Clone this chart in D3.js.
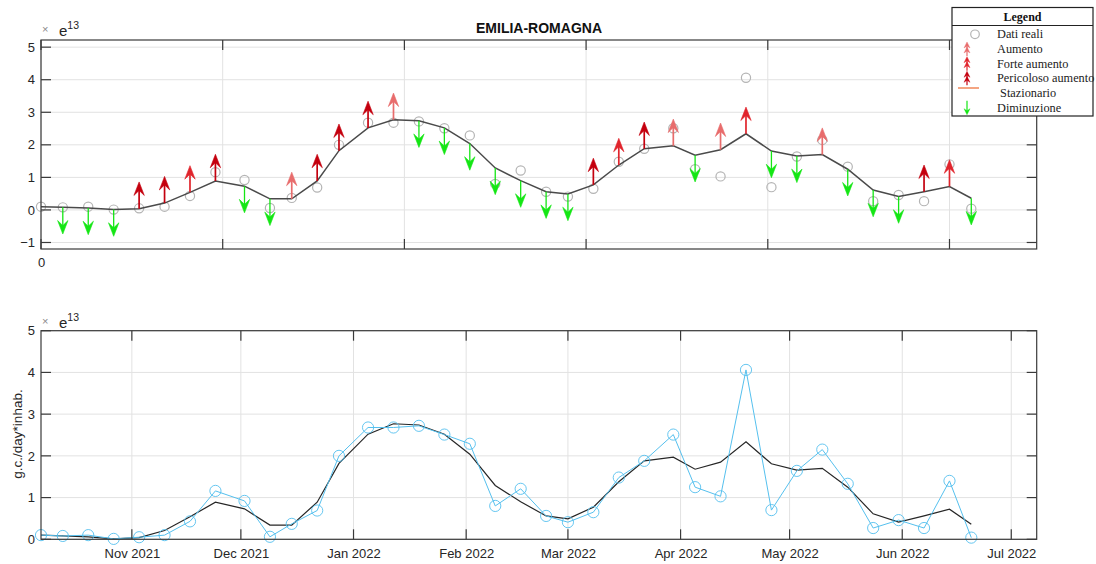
<!DOCTYPE html>
<html><head><meta charset="utf-8">
<script src="https://cdn.jsdelivr.net/npm/d3@7"></script>
<style>
body{margin:0;background:#fff}
svg{display:block}
text{font-family:"Liberation Sans",Arial,Helvetica,sans-serif}
</style>
</head><body>
<svg id="chart" width="1096" height="564"></svg>
<script>
// ---------------- DATA ----------------
const dates = ["2021-10-07","2021-10-13","2021-10-20","2021-10-27","2021-11-03","2021-11-10","2021-11-17","2021-11-24",
  "2021-12-02","2021-12-09","2021-12-15","2021-12-22","2021-12-28","2022-01-05","2022-01-12","2022-01-19","2022-01-26",
  "2022-02-02","2022-02-09","2022-02-16","2022-02-23","2022-03-01","2022-03-08","2022-03-15","2022-03-22","2022-03-30",
  "2022-04-05","2022-04-12","2022-04-19","2022-04-26","2022-05-03","2022-05-10","2022-05-17","2022-05-24","2022-05-31",
  "2022-06-07","2022-06-14","2022-06-20"];
const realValues = [0.10,0.08,0.10,0.01,0.05,0.10,0.43,1.16,0.92,0.06,
  0.37,0.69,2.00,2.68,2.68,2.72,2.51,2.29,0.80,1.21,
  0.56,0.41,0.65,1.48,1.88,2.51,1.25,1.03,4.06,0.70,
  1.64,2.15,1.33,0.27,0.46,0.27,1.40,0.04];
const smoothValues = [0.10,0.08,0.06,0.01,0.04,0.21,0.54,0.89,0.73,0.34,
  0.34,0.89,1.82,2.52,2.77,2.74,2.52,2.04,1.29,0.90,
  0.56,0.49,0.77,1.38,1.88,1.97,1.68,1.85,2.34,1.81,
  1.66,1.70,1.25,0.61,0.41,0.56,0.72,0.36];
// A = Aumento, F = Forte aumento, P = Pericoloso aumento, D = Diminuzione, "" = none
const trend = ["","D","D","D","P","P","F","P","D","D",
  "A","P","P","P","A","D","D","D","D","D",
  "D","D","P","F","P","A","D","A","F","D",
  "D","A","D","D","D","P","F","D"];
const xDomain = ["2021-10-07","2022-07-08"];
const topXTickDays = [0,50,100,150,200,250];
const topYTicks = [-1,0,1,2,3,4,5];
const topYDomain = [-1.2,5.22];
const bottomYTicks = [0,1,2,3,4,5];
const bottomYDomain = [0,5];
const monthTicks = ["2021-11-01","2021-12-01","2022-01-01","2022-02-01","2022-03-01","2022-04-01","2022-05-01","2022-06-01","2022-07-01"];
const legendLabels = ["Dati reali","Aumento","Forte aumento","Pericoloso aumento"," Stazionario","Diminuzione"];
const title = "EMILIA-ROMAGNA";
const yLabel = "g.c./day*inhab.";
const arrowLen = 0.82;

// ---------------- STYLE ----------------
const colors = {A:"#e86c6c", F:"#e0242c", P:"#c4000e", D:"#14e614"};
const gridColor = "#e2e2e2", axisColor = "#3a3a3a", textColor = "#262626";
const blue = "#55c0ee", grayCircle = "#b4b4b4";

const parse = d3.utcParse("%Y-%m-%d");
const D = dates.map(parse);
const svg = d3.select("#chart");

const L = 41, R = 1036.7;
const x = d3.scaleUtc().domain(xDomain.map(parse)).range([L, R]);
const topBox = {t:40, b:249};
const botBox = {t:330.7, b:539.3};
const yT = d3.scaleLinear().domain(topYDomain).range([topBox.b, topBox.t]);
const yB = d3.scaleLinear().domain(bottomYDomain).range([botBox.b, botBox.t]);

const start = parse(xDomain[0]);
const topXTicks = topXTickDays.map(d => d3.utcDay.offset(start, d));
const monthDates = monthTicks.map(parse);

function frame(g, ys, yScale, box, xTickVals){
  g.append("g").selectAll("line").data(ys).join("line")
    .attr("x1", L).attr("x2", R).attr("y1", d=>yScale(d)).attr("y2", d=>yScale(d))
    .attr("stroke", gridColor).attr("stroke-width", 1);
  g.append("g").selectAll("line").data(xTickVals).join("line")
    .attr("x1", d=>x(d)).attr("x2", d=>x(d)).attr("y1", box.t).attr("y2", box.b)
    .attr("stroke", gridColor).attr("stroke-width", 1);
}
function axesBox(g, ys, yScale, box, xTickVals){
  const tl = 10;
  const a = g.append("g").attr("stroke", axisColor).attr("stroke-width", 1.2).attr("fill","none");
  a.append("rect").attr("x", L).attr("y", box.t).attr("width", R-L).attr("height", box.b-box.t);
  a.selectAll(".yl").data(ys).join("line").attr("x1", L).attr("x2", L+tl).attr("y1", d=>yScale(d)).attr("y2", d=>yScale(d));
  a.selectAll(".yr").data(ys).join("line").attr("x1", R).attr("x2", R-tl).attr("y1", d=>yScale(d)).attr("y2", d=>yScale(d));
  a.selectAll(".xb").data(xTickVals).join("line").attr("x1", d=>x(d)).attr("x2", d=>x(d)).attr("y1", box.b).attr("y2", box.b-tl);
  a.selectAll(".xt").data(xTickVals).join("line").attr("x1", d=>x(d)).attr("x2", d=>x(d)).attr("y1", box.t).attr("y2", box.t+tl);
  const ax = g.append("g").attr("transform", `translate(${L},0)`)
    .call(d3.axisLeft(yScale).tickValues(ys).tickSize(0).tickPadding(6).tickFormat(d3.format("d")));
  ax.select(".domain").remove();
  ax.selectAll("text").attr("font-size", 13).attr("fill", textColor).style("font-family","Liberation Sans, Arial, sans-serif");
}
function exponent(g, yBase){
  g.append("text").attr("x", 42).attr("y", yBase-3).attr("font-size", 11).attr("fill", "#8a8a8a").text("×");
  const t = g.append("text").attr("x", 59).attr("y", yBase).attr("font-size", 15).attr("fill", textColor);
  t.append("tspan").text("e");
  t.append("tspan").attr("font-size", 10.5).attr("dy", -7).text("13");
}

// ---------- TOP PLOT ----------
const gTop = svg.append("g");
frame(gTop, topYTicks, yT, topBox, topXTicks);

gTop.append("g").selectAll("circle").data(realValues).join("circle")
  .attr("cx", (d,i)=>x(D[i])).attr("cy", d=>yT(d)).attr("r", 4.6)
  .attr("fill","none").attr("stroke", grayCircle).attr("stroke-width", 1.2);

const lineT = d3.line().x((d,i)=>x(D[i])).y(d=>yT(d));
gTop.append("path").datum(smoothValues).attr("d", lineT)
  .attr("fill","none").attr("stroke","#4a4a4a").attr("stroke-width",1.5);

const arrows = gTop.append("g");
smoothValues.forEach((v,i)=>{
  const k = trend[i]; if(!k) return;
  const dir = k === "D" ? -1 : 1;
  const bx = x(D[i]), by = yT(v), ty = yT(v + dir*arrowLen);
  const c = colors[k];
  const s = ty < by ? 1 : -1;
  arrows.append("line").attr("x1", bx).attr("x2", bx).attr("y1", by).attr("y2", ty + s*7)
    .attr("stroke", c).attr("stroke-width", k==="D"?1.3:1.7);
  const hw = 5.2, hl = 13.5, notch = 8.5;
  arrows.append("path")
    .attr("d", `M${bx},${ty} L${bx-hw},${ty+s*hl} L${bx},${ty+s*notch} L${bx+hw},${ty+s*hl} Z`)
    .attr("fill", c).attr("stroke", c).attr("stroke-width", 0.6).attr("stroke-linejoin","round");
});

axesBox(gTop, topYTicks, yT, topBox, topXTicks);
const axTopX = gTop.append("g").attr("transform", `translate(0,${topBox.b})`)
  .call(d3.axisBottom(x).tickValues(topXTicks).tickSize(0).tickPadding(9)
    .tickFormat((d,i)=> topXTickDays[i]===0 ? "0" : ""));
axTopX.select(".domain").remove();
axTopX.selectAll("text").attr("font-size",13).attr("fill",textColor).style("font-family","Liberation Sans, Arial, sans-serif");
exponent(gTop, 36);

svg.append("text").attr("x", 539).attr("y", 33).attr("text-anchor","middle")
  .attr("font-size", 14).attr("font-weight","bold").attr("fill","#111").text(title);

// ---------- BOTTOM PLOT ----------
const gBot = svg.append("g");
frame(gBot, bottomYTicks, yB, botBox, monthDates);
const lineB = d3.line().x((d,i)=>x(D[i])).y(d=>yB(d));
gBot.append("path").datum(smoothValues).attr("d", lineB)
  .attr("fill","none").attr("stroke","#262626").attr("stroke-width",1.2);
gBot.append("path").datum(realValues).attr("d", lineB)
  .attr("fill","none").attr("stroke",blue).attr("stroke-width",1);
gBot.append("g").selectAll("circle").data(realValues).join("circle")
  .attr("cx",(d,i)=>x(D[i])).attr("cy",d=>yB(d)).attr("r",5.6)
  .attr("fill","none").attr("stroke",blue).attr("stroke-width",0.9);
axesBox(gBot, bottomYTicks, yB, botBox, monthDates);
const axBotX = gBot.append("g").attr("transform", `translate(0,${botBox.b})`)
  .call(d3.axisBottom(x).tickValues(monthDates).tickSize(0).tickPadding(9).tickFormat(d3.utcFormat("%b %Y")));
axBotX.select(".domain").remove();
axBotX.selectAll("text").attr("font-size",13).attr("fill",textColor).style("font-family","Liberation Sans, Arial, sans-serif");
exponent(gBot, 328);
svg.append("text").attr("transform","translate(22,434) rotate(-90)").attr("text-anchor","middle")
  .attr("font-size",13.5).attr("fill",textColor).text(yLabel);

// ---------- LEGEND ----------
const lg = svg.append("g");
const lx = 952, ly = 7.5, lw = 141, lh = 108.5;
lg.append("rect").attr("x",lx).attr("y",ly).attr("width",lw).attr("height",lh)
  .attr("fill","#fff").attr("stroke","#222").attr("stroke-width",1.2);
lg.append("line").attr("x1",lx).attr("x2",lx+lw).attr("y1",ly+18).attr("y2",ly+18).attr("stroke","#222").attr("stroke-width",1.2);
lg.append("text").attr("x", lx+lw/2).attr("y", ly+13).attr("text-anchor","middle")
  .attr("font-size",12).attr("font-weight","bold").style("font-family","Liberation Serif, Times New Roman, serif").attr("fill","#111").text("Legend");
const rowY = d3.scaleLinear().domain([0,5]).range([34.3,107.7]);
legendLabels.forEach((t,i)=>{
  lg.append("text").attr("x", 997).attr("y", rowY(i)+4).attr("font-size",12.3)
    .style("font-family","Liberation Serif, Times New Roman, serif").attr("fill","#222").attr("xml:space","preserve").text(t);
});
lg.append("circle").attr("cx",975).attr("cy",rowY(0)).attr("r",4.3).attr("fill","none").attr("stroke",grayCircle).attr("stroke-width",1.2);
function legArrow(cy, c, up, heads){
  const s = up ? 1 : -1;
  const tip = cy - s*7, tail = cy + s*7;
  lg.append("line").attr("x1",967).attr("x2",967).attr("y1",tail).attr("y2",tip+s*3).attr("stroke",c).attr("stroke-width",1.2);
  for(let h=0; h<heads; h++){
    const ty = tip + s*h*5;
    lg.append("path").attr("d",`M967,${ty} L${964},${ty+s*6} L967,${ty+s*4} L${970},${ty+s*6} Z`).attr("fill",c).attr("stroke",c).attr("stroke-width",0.4);
  }
}
legArrow(rowY(1), colors.A, true, 2);
legArrow(rowY(2), colors.F, true, 2);
legArrow(rowY(3), colors.P, true, 2);
lg.append("line").attr("x1",958).attr("x2",979).attr("y1",rowY(4)-5).attr("y2",rowY(4)-5).attr("stroke","#f4a582").attr("stroke-width",2);
legArrow(rowY(5), colors.D, false, 1);
</script>
</body></html>
